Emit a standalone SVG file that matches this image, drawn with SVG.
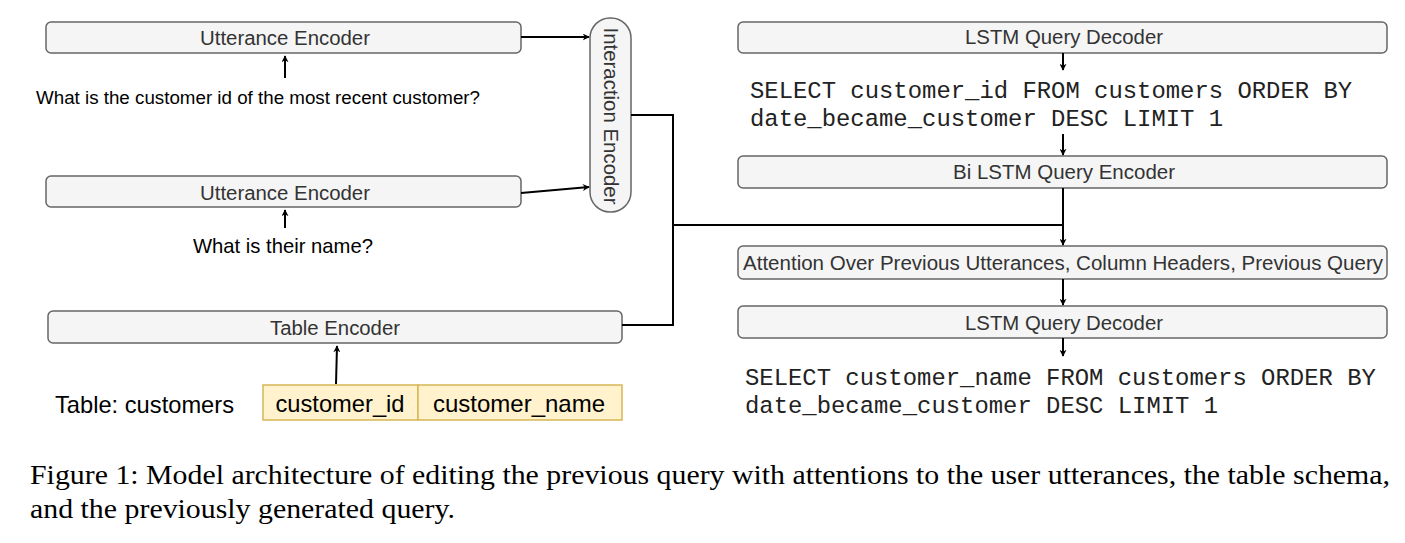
<svg xmlns="http://www.w3.org/2000/svg" width="1405" height="543" viewBox="0 0 1405 543">
<style>
.box{fill:#f5f5f5;stroke:#666;stroke-width:1.5}
.lbl{font-size:20px;fill:#333;text-anchor:middle}
.txt{fill:#000}
.sql{font-size:23.9px;fill:#222}
.cell{fill:#fff2cc;stroke:#d6b656;stroke-width:1.5}
.ln{fill:none;stroke:#000;stroke-width:2}
.cap{font-size:28px;fill:#000}
</style>
<defs>
<marker id="ah" viewBox="0 0 10 10" refX="9" refY="5" markerWidth="7" markerHeight="7" orient="auto" markerUnits="userSpaceOnUse">
<path d="M0,0 L10,5 L0,10 L3,5 Z" fill="#000"/>
</marker>
</defs>
<rect width="1405" height="543" fill="#fff"/>

<g font-family="Liberation Sans, Arial, sans-serif">
<g id="utt1">
<rect class="box" x="46" y="22" width="475" height="31" rx="5"/>
<text class="lbl" x="285" y="45" textLength="170" lengthAdjust="spacingAndGlyphs">Utterance Encoder</text>
</g>
<g id="q1"><text class="txt" x="36" y="104" font-size="18.7" textLength="444" lengthAdjust="spacingAndGlyphs">What is the customer id of the most recent customer?</text></g>
<g id="utt2">
<rect class="box" x="46" y="176" width="475" height="31" rx="5"/>
<text class="lbl" x="285" y="200" textLength="170" lengthAdjust="spacingAndGlyphs">Utterance Encoder</text>
</g>
<g id="q2"><text class="txt" x="283" y="253" font-size="20.3" text-anchor="middle" textLength="180" lengthAdjust="spacingAndGlyphs">What is their name?</text></g>
<g id="inter">
<rect class="box" x="590" y="18" width="41" height="194" rx="20"/>
<text class="lbl" transform="translate(603.5,116) rotate(90)" x="0" y="0" textLength="177" lengthAdjust="spacingAndGlyphs">Interaction Encoder</text>
</g>
<g id="table">
<rect class="box" x="48" y="311" width="574" height="32" rx="5"/>
<text class="lbl" x="335" y="335" textLength="130" lengthAdjust="spacingAndGlyphs">Table Encoder</text>
</g>
<g id="tabname"><text class="txt" x="55" y="413" font-size="24" textLength="179" lengthAdjust="spacingAndGlyphs">Table: customers</text></g>
<g id="cols">
<rect class="cell" x="263" y="385" width="155" height="35"/>
<rect class="cell" x="418" y="385" width="204" height="35"/>
<text class="txt" x="340" y="412" font-size="24" text-anchor="middle" textLength="129" lengthAdjust="spacingAndGlyphs">customer_id</text>
<text class="txt" x="519" y="412" font-size="24" text-anchor="middle" textLength="172" lengthAdjust="spacingAndGlyphs">customer_name</text>
</g>
<g id="dec1">
<rect class="box" x="738" y="22" width="649" height="31" rx="5"/>
<text class="lbl" x="1064" y="44" textLength="198" lengthAdjust="spacingAndGlyphs">LSTM Query Decoder</text>
</g>
<g id="bienc">
<rect class="box" x="738" y="156" width="649" height="32" rx="5"/>
<text class="lbl" x="1064" y="179" textLength="222" lengthAdjust="spacingAndGlyphs">Bi LSTM Query Encoder</text>
</g>
<g id="attn">
<rect class="box" x="738" y="246" width="649" height="33" rx="5"/>
<text class="lbl" x="1063" y="270" textLength="640" lengthAdjust="spacingAndGlyphs">Attention Over Previous Utterances, Column Headers, Previous Query</text>
</g>
<g id="dec2">
<rect class="box" x="738" y="306" width="649" height="32" rx="5"/>
<text class="lbl" x="1064" y="330" textLength="198" lengthAdjust="spacingAndGlyphs">LSTM Query Decoder</text>
</g>
</g>

<g font-family="Liberation Mono, Courier New, monospace">
<g id="sql1">
<text class="sql" x="750" y="98">SELECT customer_id FROM customers ORDER BY</text>
<text class="sql" x="750" y="126">date_became_customer DESC LIMIT 1</text>
</g>
<g id="sql2">
<text class="sql" x="745" y="385">SELECT customer_name FROM customers ORDER BY</text>
<text class="sql" x="745" y="413">date_became_customer DESC LIMIT 1</text>
</g>
</g>

<g id="connectors">
<line class="ln" x1="521" y1="37" x2="589" y2="37" marker-end="url(#ah)"/>
<line class="ln" x1="521" y1="193" x2="589" y2="187" marker-end="url(#ah)"/>
<line class="ln" x1="285" y1="78" x2="285" y2="56" marker-end="url(#ah)"/>
<line class="ln" x1="285" y1="228" x2="285" y2="210" marker-end="url(#ah)"/>
<line class="ln" x1="336" y1="384" x2="337" y2="346" marker-end="url(#ah)"/>
<polyline class="ln" points="631,115 673,115 673,325 622,325"/>
<polyline class="ln" points="673,225 1063,225"/>
<line class="ln" x1="1063" y1="188" x2="1063" y2="245" marker-end="url(#ah)"/>
<line class="ln" x1="1063" y1="53" x2="1063" y2="70" marker-end="url(#ah)"/>
<line class="ln" x1="1063" y1="134" x2="1063" y2="155" marker-end="url(#ah)"/>
<line class="ln" x1="1063" y1="279" x2="1063" y2="305" marker-end="url(#ah)"/>
<line class="ln" x1="1063" y1="338" x2="1063" y2="356" marker-end="url(#ah)"/>
</g>

<g id="caption" font-family="Liberation Serif, Times New Roman, serif">
<text class="cap" x="30" y="484" textLength="1360" lengthAdjust="spacingAndGlyphs">Figure 1: Model architecture of editing the previous query with attentions to the user utterances, the table schema,</text>
<text class="cap" x="30" y="518" textLength="425" lengthAdjust="spacingAndGlyphs">and the previously generated query.</text>
</g>
</svg>
